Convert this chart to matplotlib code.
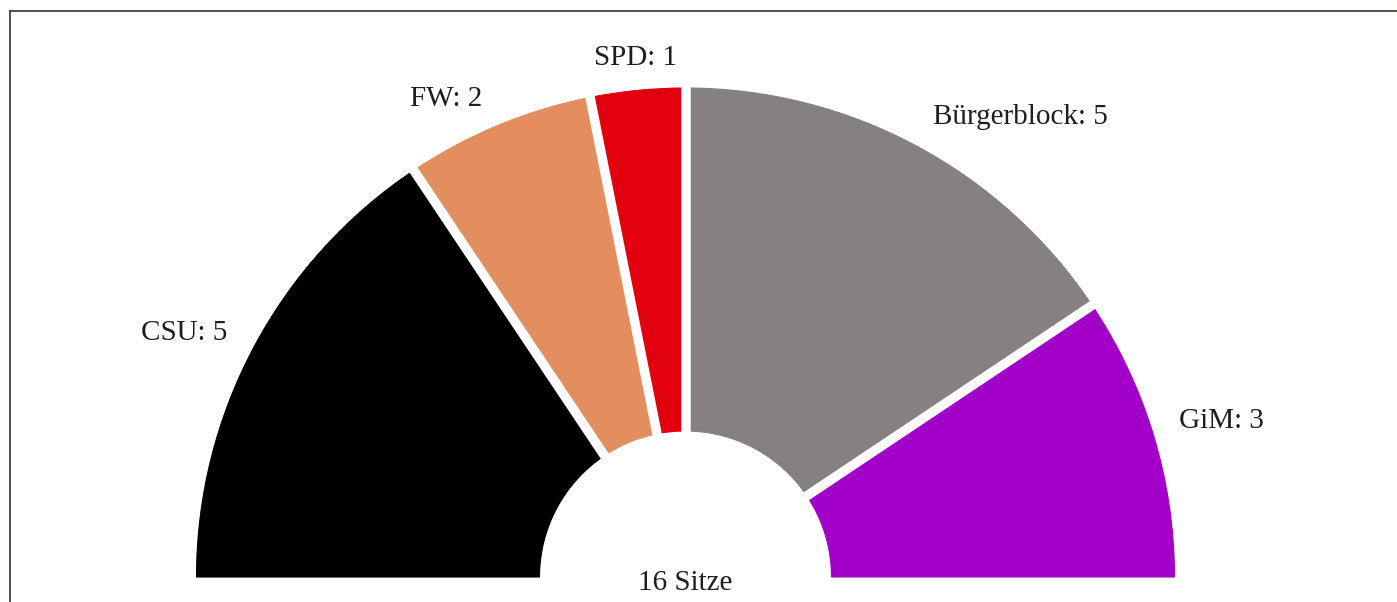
import numpy as np
import matplotlib
matplotlib.use("Agg")
import matplotlib.pyplot as plt
from matplotlib.patches import Wedge
from matplotlib.lines import Line2D

# ---------------------------------------------------------------------------
# Seat distribution (16 Sitze)
# ---------------------------------------------------------------------------
parties = ["CSU", "FW", "SPD", "Bürgerblock", "GiM"]
seats = [5, 2, 1, 5, 3]
colors = ["#000000", "#E48E60", "#E2000F", "#858180", "#A200C8"]
total_label = f"{sum(seats)} Sitze"

# layout (pixels of the 1397x602 canvas, y from top)
W, H = 1397, 602
CX, CY = 685.5, 577.0
R_OUT, R_IN = 489.0, 146.0
GAP_PX = 9.5

# label anchors in units of the outer radius, relative to the centre
label_pos = [(-1.026, 0.500), (-0.489, 0.978), (-0.103, 1.062),
             (0.685, 0.940), (1.095, 0.320)]

plt.rcParams["font.family"] = ["Liberation Serif", "DejaVu Serif"]

fig = plt.figure(figsize=(W / 100, H / 100), dpi=100)
ax = fig.add_axes([0, 0, 1, 1])
ax.set_xlim(-CX / R_OUT, (W - CX) / R_OUT)
ax.set_ylim(-(H - CY) / R_OUT, CY / R_OUT)
ax.set_aspect("equal")
ax.axis("off")

frac_in = R_IN / R_OUT
angles = 180 - np.cumsum([0] + seats) * 180.0 / sum(seats)

for i, (p, n, c) in enumerate(zip(parties, seats, colors)):
    a1, a0 = angles[i + 1], angles[i]
    w = Wedge((0, 0), 1.0, a1, a0, width=1.0 - frac_in,
              facecolor=c, edgecolor=c, linewidth=0.8)
    ax.add_patch(w)

# white separators between the groups
for a in angles[1:-1]:
    t = np.deg2rad(a)
    ax.plot([0.9 * frac_in * np.cos(t), 1.02 * np.cos(t)],
            [0.9 * frac_in * np.sin(t), 1.02 * np.sin(t)],
            color="white", linewidth=GAP_PX * 72 / 100, solid_capstyle="butt",
            zorder=3)

for (lx, ly), p, n in zip(label_pos, parties, seats):
    ax.text(lx, ly, f"{p}: {n}", ha="center", va="center",
            fontsize=21, color="#1e1e1e")

ax.text(0, -(583 - CY) / R_OUT, total_label, ha="center", va="center",
        fontsize=21, color="#1e1e1e")

# frame of the original screenshot (only left and top are visible)
bx, by = 9.5 / W, 1 - 10.5 / H
fig.add_artist(Line2D([bx, bx], [0, by], transform=fig.transFigure,
                      color="#4a4038", linewidth=1.3))
fig.add_artist(Line2D([bx, 1], [by, by], transform=fig.transFigure,
                      color="#4a4038", linewidth=1.3))

fig.savefig("out.png", dpi=100, facecolor="white")
